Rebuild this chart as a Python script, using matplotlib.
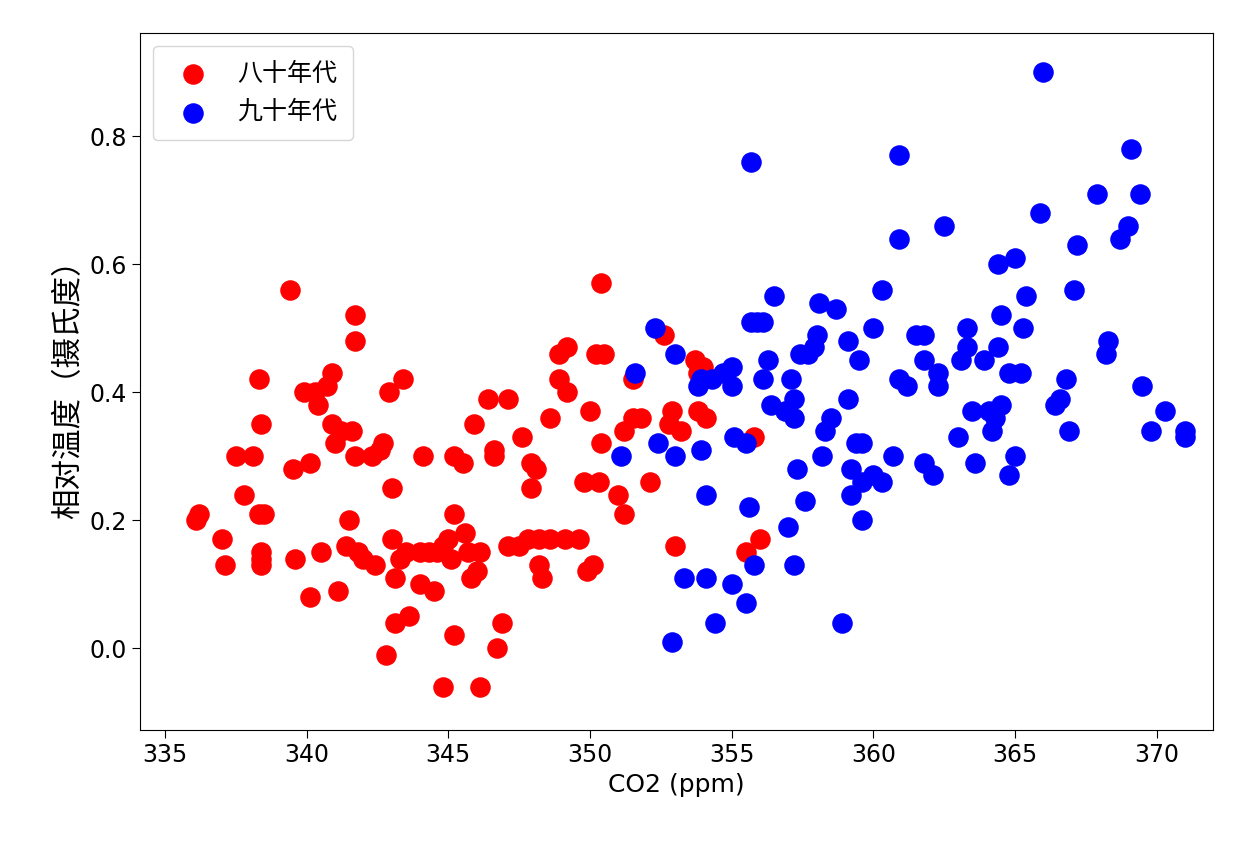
import matplotlib
matplotlib.use("Agg")
import matplotlib.pyplot as plt

x80 = [336.1,336.2,337.0,337.1,337.5,337.8,338.1,338.3,338.4,338.3,338.5,338.4,338.4,338.4,339.4,339.5,339.6,339.9,340.1,340.1,340.3,340.4,340.5,340.7,340.9,340.9,341.0,341.1,341.2,341.4,341.5,341.6,341.7,341.7,341.7,341.8,342.0,342.3,342.4,342.6,342.7,342.8,342.9,343.0,343.0,343.1,343.1,343.4,343.5,343.3,343.6,344.0,344.0,344.1,344.3,344.5,344.6,344.8,344.8,345.0,345.1,345.2,345.2,345.2,345.5,345.6,345.7,345.8,345.9,346.0,346.1,346.1,346.4,346.6,346.6,346.7,346.9,347.1,347.1,347.5,347.6,347.8,347.9,347.9,348.1,348.2,348.2,348.3,348.6,348.6,348.9,348.9,349.1,349.2,349.2,349.6,349.8,349.9,350.0,350.1,350.2,350.3,350.4,350.4,350.5,351.0,351.2,351.2,351.5,351.5,351.8,352.1,352.6,352.8,352.9,353.0,353.2,353.7,353.8,353.8,354.1,354.0,355.5,355.8,356.0]
y80 = [0.20,0.21,0.17,0.13,0.30,0.24,0.30,0.42,0.35,0.21,0.21,0.15,0.14,0.13,0.56,0.28,0.14,0.40,0.29,0.08,0.40,0.38,0.15,0.41,0.43,0.35,0.32,0.09,0.34,0.16,0.20,0.34,0.52,0.48,0.30,0.15,0.14,0.30,0.13,0.31,0.32,-0.01,0.40,0.25,0.17,0.11,0.04,0.42,0.15,0.14,0.05,0.15,0.10,0.30,0.15,0.09,0.15,0.16,-0.06,0.17,0.14,0.02,0.21,0.30,0.29,0.18,0.15,0.11,0.35,0.12,0.15,-0.06,0.39,0.31,0.30,0.00,0.04,0.39,0.16,0.16,0.33,0.17,0.25,0.29,0.28,0.17,0.13,0.11,0.36,0.17,0.46,0.42,0.17,0.47,0.40,0.17,0.26,0.12,0.37,0.13,0.46,0.26,0.32,0.57,0.46,0.24,0.34,0.21,0.36,0.42,0.36,0.26,0.49,0.35,0.37,0.16,0.34,0.45,0.43,0.37,0.36,0.44,0.15,0.33,0.17]

x90 = [351.1,351.6,352.3,352.4,352.9,353.0,353.0,353.3,353.8,353.9,353.9,354.1,354.1,354.3,354.4,354.7,355.0,355.0,355.0,355.1,355.5,355.5,355.6,355.7,355.7,355.8,355.9,356.1,356.1,356.3,356.4,356.5,356.9,357.0,357.1,357.2,357.2,357.2,357.3,357.4,357.6,357.7,357.9,358.0,358.1,358.2,358.3,358.5,358.7,358.9,359.1,359.1,359.2,359.2,359.4,359.5,359.6,359.6,359.6,360.0,360.0,360.3,360.3,360.7,360.9,360.9,360.9,361.2,361.5,361.8,361.8,361.8,362.1,362.3,362.3,362.5,363.0,363.1,363.3,363.3,363.5,363.6,363.9,364.1,364.2,364.3,364.4,364.4,364.5,364.5,364.8,364.8,365.0,365.0,365.2,365.3,365.4,365.9,366.0,366.4,366.6,366.8,366.9,367.1,367.2,367.9,368.2,368.3,368.7,369.0,369.1,369.4,369.5,369.8,370.3,371.0,371.0]
y90 = [0.30,0.43,0.50,0.32,0.01,0.30,0.46,0.11,0.41,0.42,0.31,0.24,0.11,0.42,0.04,0.43,0.41,0.44,0.10,0.33,0.07,0.32,0.22,0.51,0.76,0.13,0.51,0.51,0.42,0.45,0.38,0.55,0.37,0.19,0.42,0.13,0.36,0.39,0.28,0.46,0.23,0.46,0.47,0.49,0.54,0.30,0.34,0.36,0.53,0.04,0.39,0.48,0.24,0.28,0.32,0.45,0.20,0.26,0.32,0.27,0.50,0.56,0.26,0.30,0.77,0.64,0.42,0.41,0.49,0.49,0.29,0.45,0.27,0.43,0.41,0.66,0.33,0.45,0.50,0.47,0.37,0.29,0.45,0.37,0.34,0.36,0.60,0.47,0.52,0.38,0.43,0.27,0.30,0.61,0.43,0.50,0.55,0.68,0.90,0.38,0.39,0.42,0.34,0.56,0.63,0.71,0.46,0.48,0.64,0.66,0.78,0.71,0.41,0.34,0.37,0.34,0.33]

labels = ["八十年代", "九十年代"]

plt.rcParams['font.family'] = ['DejaVu Sans', 'Noto Sans CJK SC']
fig = plt.figure(figsize=(12.4, 8.48), dpi=100)
ax = fig.add_axes([0.113, 0.139, 0.865, 0.822])
ax.scatter(x80, y80, s=190, c='red', label=labels[0])
ax.scatter(x90, y90, s=190, c='blue', label=labels[1])
ax.set_xlim(334.12, 371.98)
ax.set_ylim(-0.128, 0.961)
ax.set_yticks([0.0, 0.2, 0.4, 0.6, 0.8])
ax.set_xticks(range(335, 371, 5))
ax.tick_params(labelsize=17, length=6)
ax.set_xlabel("CO2 (ppm)", fontsize=18)
ax.set_ylabel("相对温度（摄氏度）", fontsize=22, family=['Noto Sans CJK SC', 'DejaVu Sans'])
leg = ax.legend(loc='upper left', fontsize=18, borderpad=0.6,
                prop={'family': ['Noto Sans CJK SC', 'DejaVu Sans'], 'size': 18})
fig.savefig("out.png", dpi=100)
